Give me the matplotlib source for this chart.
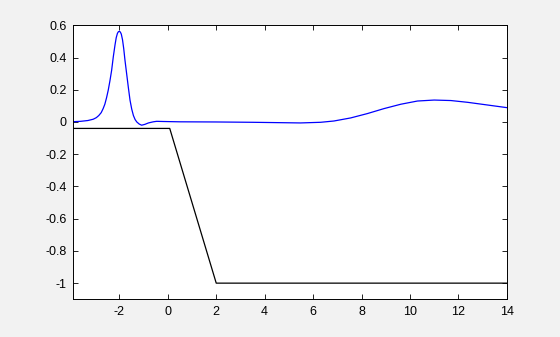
import matplotlib
matplotlib.use("Agg")
import matplotlib.pyplot as plt

# blue trace
blue_x = [-3.9, -3.6, -3.3, -3.08, -2.95, -2.85, -2.75, -2.67, -2.6, -2.53, -2.46,
          -2.39, -2.32, -2.25, -2.18, -2.13, -2.08, -2.04, -2.0, -1.96, -1.92,
          -1.87, -1.82, -1.77, -1.70, -1.63, -1.56, -1.49, -1.42, -1.35, -1.28,
          -1.18, -1.08, -0.95, -0.80, -0.6, -0.46, -0.2, 0.5, 2.0, 3.5, 4.5,
          5.48, 6.31, 6.86, 7.55, 8.24, 8.93, 9.62, 10.31, 11.0, 11.69, 12.38,
          13.07, 14.0]
blue_y = [0.002, 0.004, 0.009, 0.017, 0.027, 0.04, 0.058, 0.083, 0.11, 0.15, 0.197,
          0.255, 0.32, 0.405, 0.478, 0.523, 0.55, 0.56, 0.5625, 0.558, 0.545,
          0.51, 0.455, 0.385, 0.30, 0.215, 0.135, 0.08, 0.04, 0.015, 0.0,
          -0.013, -0.02, -0.015, -0.006, 0.001, 0.004, 0.003, 0.001, 0.0, -0.002,
          -0.004, -0.006, -0.002, 0.006, 0.025, 0.052, 0.083, 0.11, 0.13, 0.136,
          0.133, 0.122, 0.108, 0.089]

# black trace
black_x = [-3.9, 0.08, 2.0, 14.0]
black_y = [-0.04, -0.04, -1.0, -1.0]

xticks = [-2, 0, 2, 4, 6, 8, 10, 12, 14]
yticks = [-1, -0.8, -0.6, -0.4, -0.2, 0, 0.2, 0.4, 0.6]

plt.rcParams["font.family"] = ["Liberation Sans", "DejaVu Sans"]

fig = plt.figure(figsize=(5.6, 3.37), dpi=100, facecolor="#f2f2f2")
ax = fig.add_axes([0.131, 0.112, 0.774, 0.813])
ax.set_facecolor("white")

ax.plot(blue_x, blue_y, color="#0000ff", lw=0.9)
ax.plot(black_x, black_y, color="black", lw=0.9)

ax.set_xlim(-3.9, 14)
ax.set_ylim(-1.1, 0.6)
ax.set_xticks(xticks)
ax.set_yticks(yticks)
ax.set_xticklabels([f"{v:g}" for v in xticks])
ax.set_yticklabels([f"{v:g}" for v in yticks])

ax.tick_params(direction="in", length=3.5, width=0.6, top=True, right=True,
               labelsize=9, colors="black", pad=5)
for s in ax.spines.values():
    s.set_linewidth(0.7)
    s.set_color("black")

fig.savefig("out.png", dpi=100, facecolor=fig.get_facecolor())
